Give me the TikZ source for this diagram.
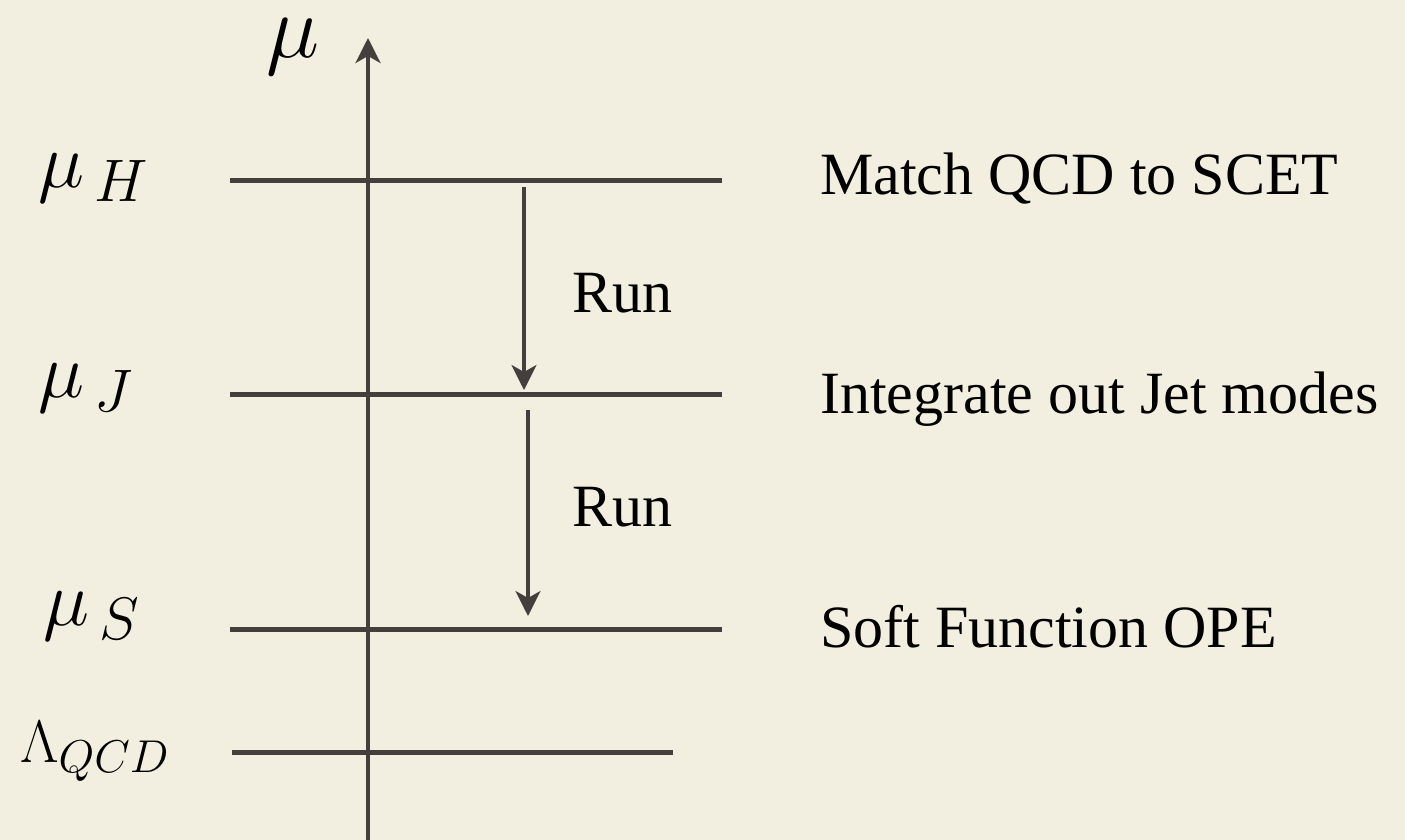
\RequirePackage{fix-cm}
\documentclass[tikz,border=0pt]{standalone}
\usepackage{fontspec}
\setmainfont{Liberation Serif}
\usetikzlibrary{arrows.meta}
\DeclareMathSizes{78}{78}{60}{44}
\DeclareMathSizes{60}{60}{46}{34}
\definecolor{bgcol}{RGB}{243,239,224}
\definecolor{linecol}{RGB}{68,63,60}
\tikzset{
  level/.style={draw=linecol, line width=5pt},
  axisline/.style={draw=linecol, line width=4pt, -{Stealth[length=25pt,width=25pt,inset=7pt]}},
  runarrow/.style={draw=linecol, line width=3.5pt, -{Stealth[length=25pt,width=25pt,inset=7pt]}},
  mathlbl/.style={inner sep=0pt, anchor=base west, font=\fontsize{78}{84}\selectfont},
  txt/.style={inner sep=0pt, anchor=base west, font=\fontsize{60}{66}\selectfont},
}
\begin{document}
\begin{tikzpicture}[x=1pt,y=-1pt]
\fill[bgcol] (0,0) rectangle (1405,840);
\useasboundingbox (0,0) rectangle (1405,840);
% axis
\coordinate (axb) at (368,842);
\coordinate (axt) at (368,38);
\draw[axisline] (axb) -- (axt);
% levels
\coordinate (h1) at (230,180); \coordinate (h2) at (722,180);
\coordinate (j1) at (230,394); \coordinate (j2) at (722,394);
\coordinate (s1) at (230,629); \coordinate (s2) at (722,629);
\coordinate (l1) at (232,752); \coordinate (l2) at (673,752);
\draw[level] (h1) -- (h2);
\draw[level] (j1) -- (j2);
\draw[level] (s1) -- (s2);
\draw[level] (l1) -- (l2);
% run arrows
\coordinate (r1a) at (524,187); \coordinate (r1b) at (524,390);
\coordinate (r2a) at (528,410); \coordinate (r2b) at (528,616);
\draw[runarrow] (r1a) -- (r1b);
\draw[runarrow] (r2a) -- (r2b);
% labels
\node[mathlbl, font=\fontsize{90}{96}\selectfont] (mu) at (266,58) {$\mu$};
\node[mathlbl] (muH) at (38,187) {$\mu_{\,H}$};
\node[mathlbl] (muJ) at (38,397) {$\mu_{\,J}$};
\node[mathlbl] (muS) at (43,625) {$\mu_{\,S}$};
\node[mathlbl, font=\fontsize{60}{66}\selectfont] (lam) at (20,762) {$\Lambda_{QCD}$};
\node[txt] (run1) at (572,312) {Run};
\node[txt] (run2) at (572,526) {Run};
\node[txt] (t1) at (820,194) {Match QCD to SCET};
\node[txt] (t2) at (820,413) {Integrate out Jet modes};
\node[txt] (t3) at (820,647) {Soft Function OPE};
\end{tikzpicture}
\end{document}
